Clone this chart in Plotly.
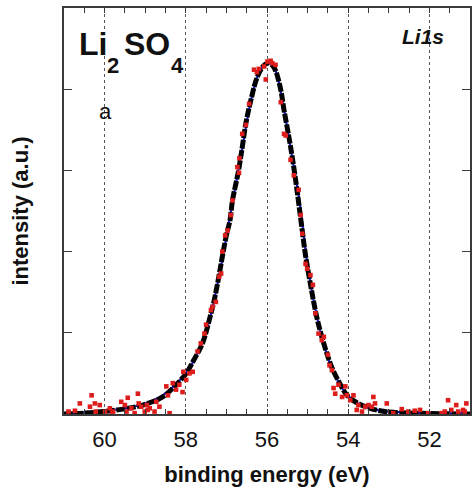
import plotly.graph_objects as go

# --- data (binding energy in eV, intensity in a.u.) ---
meas_x = [60.89, 60.73, 60.61, 60.32, 60.36, 60.24, 60.22, 60.12, 59.99, 59.87,
          59.79, 59.59, 59.50, 59.46, 59.34, 59.18, 59.16, 59.10, 59.01, 58.96,
          58.89, 58.77, 58.73, 58.65, 58.48, 58.44, 58.32, 58.24, 58.16, 58.08,
          57.99, 57.91, 57.83, 59.43, 58.94, 59.26, 58.40, 59.82, 58.06,
          57.71, 57.63, 57.54, 57.50, 57.38, 57.26, 57.34, 57.18, 57.13, 57.10,
          57.03, 56.97, 56.89, 56.85, 56.73, 56.69, 56.68, 56.61, 56.52, 56.44,
          56.32, 56.25, 56.20, 56.07, 56.03, 55.99, 55.91, 55.87, 55.79,
          55.66, 55.58, 55.54, 55.42, 55.34, 55.22, 55.17, 55.13, 55.05, 55.01,
          54.93, 54.87, 54.81, 54.73, 54.65, 54.60, 54.50, 54.46, 54.40, 54.36,
          54.32, 54.24, 54.15, 54.07, 54.03, 53.95, 53.87, 53.79, 53.75, 53.66,
          53.58, 53.50, 53.42, 53.38, 53.34, 53.05, 52.89, 52.68, 52.52, 52.36,
          52.23, 52.03, 51.70, 51.62, 51.54, 51.46, 51.34, 51.29, 51.17, 51.09,
          51.13]
meas_y = [0.03, 0.04, 0.13, 0.23, 0.09, 0.13, 0.03, 0.11, 0.03, 0.07,
          0.03, 0.15, 0.11, 0.03, 0.07, 0.25, 0.13, 0.09, 0.03, 0.11,
          0.07, 0.03, 0.15, 0.09, 0.34, 0.23, 0.38, 0.30, 0.36, 0.27,
          0.42, 0.50, 0.52, 0.20, 0.05, 0.01, 0.01, 0.01, 0.52,
          0.77, 0.87, 0.99, 1.10, 1.28, 1.38, 1.32, 1.69, 1.73, 2.00,
          2.20, 2.26, 2.45, 2.63, 3.04, 2.97, 3.15, 3.45, 3.56, 3.82,
          4.24, 4.21, 4.25, 4.28, 4.12, 4.34, 4.35, 4.32, 4.30,
          3.84, 3.45, 3.43, 3.13, 2.94, 2.76, 2.45, 2.22, 1.85, 1.79,
          1.71, 1.59, 1.24, 0.99, 0.91, 0.95, 0.73, 0.60, 0.54, 0.32,
          0.25, 0.36, 0.21, 0.34, 0.23, 0.17, 0.23, 0.05, 0.11, 0.03,
          0.09, 0.11, 0.09, 0.21, 0.13, 0.13, 0.01, 0.06, 0.03, 0.04,
          0.05, 0.01, 0.01, 0.03, 0.17, 0.05, 0.11, 0.03, 0.05, 0.13,
          0.03]

smooth_x = [61.0, 60.53, 60.04, 59.55, 59.06, 58.57, 58.24, 57.99, 57.83, 57.59,
            57.40, 57.30, 57.18, 57.10, 57.00, 56.91, 56.85, 56.70, 56.62, 56.52,
            56.40, 56.24, 56.10, 55.99, 55.88, 55.79, 55.66, 55.58, 55.46, 55.38,
            55.30, 55.22, 55.13, 55.05, 54.93, 54.85, 54.75, 54.56, 54.40, 54.19,
            53.99, 53.58, 53.09, 52.36, 51.0]
smooth_y = [0.0, 0.01, 0.03, 0.06, 0.11, 0.21, 0.36, 0.50, 0.64, 0.87,
            1.20, 1.40, 1.71, 1.94, 2.20, 2.39, 2.63, 3.00, 3.25, 3.58,
            3.86, 4.15, 4.28, 4.32, 4.30, 4.23, 3.99, 3.74, 3.41, 3.17,
            2.90, 2.60, 2.25, 1.95, 1.60, 1.38, 1.14, 0.80, 0.57, 0.36,
            0.21, 0.09, 0.03, 0.01, 0.0]

fit_x = [61.0, 60.5, 60.0, 59.5, 59.0, 58.6, 58.3, 58.0, 57.8, 57.6,
         57.4, 57.2, 57.0, 56.8, 56.6, 56.4, 56.2, 56.05, 55.95, 55.8,
         55.6, 55.4, 55.2, 55.0, 54.8, 54.6, 54.4, 54.2, 54.0, 53.7,
         53.4, 53.0, 52.5, 52.0, 51.0]
fit_y = [0.01, 0.02, 0.04, 0.07, 0.13, 0.22, 0.34, 0.50, 0.66, 0.88,
         1.19, 1.65, 2.18, 2.74, 3.30, 3.85, 4.20, 4.31, 4.32, 4.24,
         3.80, 3.22, 2.62, 1.83, 1.27, 0.86, 0.56, 0.36, 0.22, 0.11,
         0.06, 0.03, 0.02, 0.01, 0.01]

x_ticks = [60, 58, 56, 54, 52]
x_ticktext = ["60", "58", "56", "54", "52"]

FONT = "Liberation Sans, Arial, sans-serif"
AX = "#3a3a3a"

fig = go.Figure()
fig.add_trace(go.Scatter(x=fit_x, y=fit_y, mode="lines",
                         line=dict(color="#1a1ad0", width=2.2, shape="spline"),
                         hoverinfo="skip"))
fig.add_trace(go.Scatter(x=smooth_x, y=smooth_y, mode="lines",
                         line=dict(color="#000000", width=5, shape="spline",
                                   dash="9px,1.5px"),
                         hoverinfo="skip"))
fig.add_trace(go.Scatter(x=meas_x, y=meas_y, mode="markers",
                         marker=dict(symbol="square", size=4.6, color="#dd1c1c",
                                     line=dict(width=0)),
                         hoverinfo="skip"))

fig.update_layout(
    width=473, height=495,
    margin=dict(l=64, r=1, t=8, b=81),
    paper_bgcolor="white", plot_bgcolor="white",
    showlegend=False,
    font=dict(family=FONT, color="#111111"),
)

fig.update_xaxes(
    range=[61, 51],
    tickmode="array", tickvals=x_ticks, ticktext=x_ticktext,
    ticks="inside", ticklen=5, tickwidth=1, tickcolor=AX,
    tickfont=dict(size=22, family=FONT, color="#111111"),
    ticklabelstandoff=5,
    showgrid=True, gridcolor="#555555", gridwidth=1, griddash="dot",
    showline=True, linecolor=AX, linewidth=1.5, mirror="ticks",
    zeroline=False,
    minor=dict(dtick=0.5, tick0=0, ticks="inside", ticklen=5, tickcolor=AX,
               showgrid=False),
    title=dict(text="binding energy (eV)", standoff=15,
               font=dict(size=22, family=FONT, weight="bold", color="#111111")),
)
fig.update_yaxes(
    range=[0, 5], dtick=1, tick0=0,
    ticks="inside", ticklen=8, tickwidth=1, tickcolor=AX,
    showticklabels=False, showgrid=False, zeroline=False,
    showline=True, linecolor=AX, linewidth=1.5, mirror="ticks",
    title=dict(text="intensity (a.u.)", standoff=28,
               font=dict(size=22, family=FONT, weight="bold", color="#111111")),
)

def ann(text, x, y, size, bold=True, italic=False, xanchor="center"):
    fig.add_annotation(text=text, xref="paper", yref="paper", x=x, y=y,
                       xanchor=xanchor, yanchor="middle", showarrow=False,
                       font=dict(size=size, family=FONT, color="#111111",
                                 weight="bold" if bold else "normal",
                                 style="italic" if italic else "normal"))

ann("Li", 0.071, 0.912, 32)
ann("2", 0.121, 0.858, 22)
ann("SO", 0.204, 0.912, 32)
ann("4", 0.280, 0.858, 22)
ann("a", 0.102, 0.744, 22, bold=False)
ann("Li1s", 0.940, 0.929, 21, italic=True, xanchor="right")

fig.write_html("out.html")
